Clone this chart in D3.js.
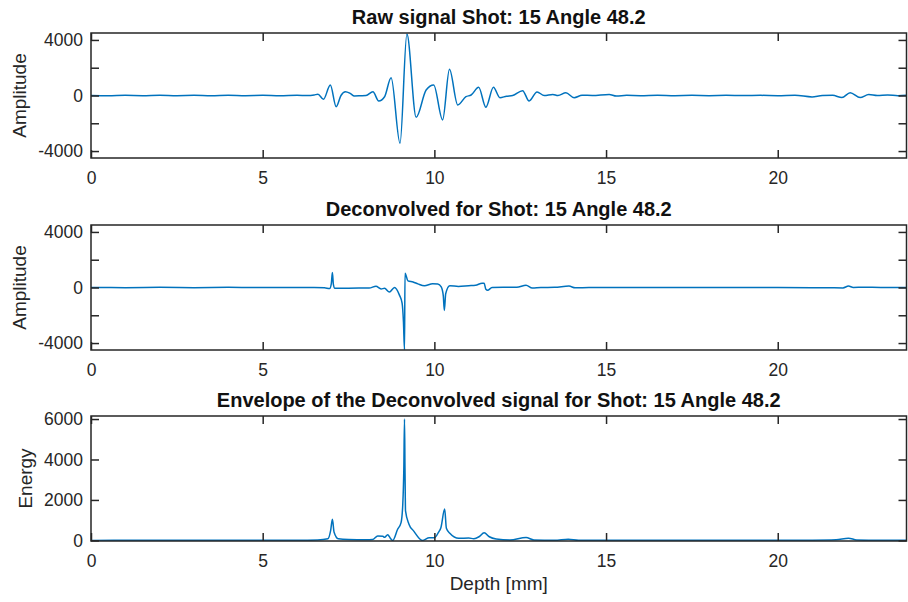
<!DOCTYPE html>
<html>
<head>
<meta charset="utf-8">
<script src="https://cdn.jsdelivr.net/npm/d3@7"></script>
<style>
  body { margin: 0; background: #fff; }
  svg text { font-family: "Liberation Sans", Arial, Helvetica, sans-serif; fill: #262626; }
</style>
</head>
<body>
<div id="wrapper"></div>
<script>
// raw signal (depth mm, amplitude)
const rawDepth = [0, 0.5, 1.0, 1.5, 2.0, 2.5, 3.0, 3.5, 4.0, 4.5, 5.0, 5.5, 6.0, 6.3, 6.5, 6.61, 6.77, 6.97, 7.14, 7.28, 7.41, 7.55, 7.67, 7.85, 8.01, 8.21, 8.38, 8.55, 8.74, 9.0, 9.2, 9.47, 9.76, 9.98, 10.24, 10.44, 10.68, 10.92, 11.07, 11.29, 11.5, 11.72, 11.91, 12.1, 12.28, 12.57, 12.76, 12.99, 13.2, 13.45, 13.6, 13.83, 14.07, 14.3, 14.6, 15.09, 15.3, 15.6, 16.0, 16.5, 17.0, 17.5, 18.0, 18.5, 19.0, 19.5, 20.0, 20.5, 21.0, 21.3, 21.6, 21.87, 22.11, 22.4, 22.65, 22.9, 23.2, 23.5, 23.75]
const rawAmp = [0, -15, 10, -10, 15, -10, 10, -15, 20, -10, 10, -15, 10, 0, 40, 90, -270, 755, -805, 0, 273, 150, -36, -20, 0, 273, -395, -90, 1280, -3437, 4420, -1567, 395, 755, -1760, 1884, -683, -86, 36, 590, -848, 590, -158, -50, 0, 345, -395, 252, 0, 80, 0, 200, -158, 20, 0, 80, -40, 10, -10, 15, -10, 10, -10, 10, -5, 10, -10, 20, -100, 0, 10, -150, 200, -150, 70, 0, 30, -10, 10]

// deconvolved signal
const decDepth = [0, 1, 2, 3, 4, 5, 6, 6.5, 6.8, 6.95, 7.0, 7.03, 7.06, 7.1, 7.4, 7.8, 8.1, 8.3, 8.45, 8.55, 8.69, 8.84, 8.98, 9.06, 9.1, 9.13, 9.145, 9.23, 9.38, 9.52, 9.71, 9.95, 10.1, 10.2, 10.26, 10.29, 10.33, 10.45, 10.7, 11.0, 11.2, 11.39, 11.45, 11.5, 11.55, 11.68, 12.0, 12.4, 12.67, 12.85, 13.1, 13.5, 13.92, 14.1, 14.5, 15, 16, 17, 18, 19, 20, 21, 21.5, 21.9, 22.06, 22.2, 22.5, 23, 23.75]
const decAmp = [0, -10, 10, -10, 10, -5, 5, 0, -20, -80, 300, 1080, 200, -60, -50, -40, -40, 90, -100, -60, -330, 0, -530, -1130, -2500, -4480, 1030, 480, 400, 260, 120, 270, 250, 50, -600, -1650, -450, 120, 80, 130, 160, 310, 300, -130, -200, 0, 20, 10, 170, -30, 0, 10, 100, -20, 0, 5, -5, 0, 5, -5, 0, -10, -20, -30, 100, 0, 20, 0, 0]

// envelope
const envDepth = [0, 1, 2, 3, 4, 5, 6, 6.6, 6.9, 6.98, 7.03, 7.08, 7.2, 7.5, 8.0, 8.2, 8.35, 8.5, 8.55, 8.64, 8.72, 8.79, 8.93, 9.03, 9.08, 9.11, 9.13, 9.145, 9.16, 9.26, 9.4, 9.65, 9.85, 10.0, 10.12, 10.19, 10.3, 10.35, 10.45, 10.71, 11.0, 11.15, 11.3, 11.45, 11.6, 11.8, 12.2, 12.67, 12.9, 13.5, 13.9, 14.2, 15, 16, 17, 18, 19, 20, 21, 21.7, 22.06, 22.3, 23, 23.75]
const envEnergy = [0, 10, 5, 10, 5, 10, 5, 20, 80, 500, 1040, 400, 80, 40, 30, 40, 220, 200, 150, 280, 100, 0, 550, 880, 1790, 3500, 6000, 3500, 1460, 800, 460, 0, 130, 130, 400, 630, 1550, 600, 350, 100, 120, 80, 180, 380, 180, 70, 20, 140, 20, 10, 60, 10, 10, 5, 10, 5, 10, 5, 10, 30, 110, 20, 5, 5]

const xTicks = [0, 5, 10, 15, 20]
const ampTicks = [-4000, -2000, 0, 2000, 4000]
const ampLabels = [-4000, 0, 4000]
const energyTicks = [0, 2000, 4000, 6000]

const panels = [
  { title: "Raw signal Shot: 15 Angle 48.2", ylabel: "Amplitude", xs: rawDepth, ys: rawAmp, yDomain: [-4500, 4500], ticks: ampTicks, labels: ampLabels, top: 33, labelX: 26 },
  { title: "Deconvolved for Shot: 15 Angle 48.2", ylabel: "Amplitude", xs: decDepth, ys: decAmp, yDomain: [-4500, 4500], ticks: ampTicks, labels: ampLabels, top: 225, labelX: 26 },
  { title: "Envelope of the Deconvolved signal for Shot: 15 Angle 48.2", ylabel: "Energy", xs: envDepth, ys: envEnergy, yDomain: [-30, 6150], ticks: energyTicks, labels: energyTicks, top: 416, labelX: 32 },
]

const dimensions = { width: 908, height: 602, left: 91, right: 906.5, panelHeight: 125 }

const svg = d3.select("#wrapper").append("svg")
  .attr("width", dimensions.width)
  .attr("height", dimensions.height)

const x = d3.scaleLinear().domain([0, 23.75]).range([dimensions.left, dimensions.right])
const axisColor = "#262626"
const tickLen = 8

panels.forEach((p, i) => {
  const bottom = p.top + dimensions.panelHeight
  const y = d3.scaleLinear().domain(p.yDomain).range([bottom, p.top])

  svg.append("clipPath").attr("id", "clip" + i)
    .append("rect")
      .attr("x", dimensions.left).attr("y", p.top)
      .attr("width", dimensions.right - dimensions.left).attr("height", dimensions.panelHeight)

  const line = d3.line()
    .x(d => x(d[0]))
    .y(d => y(d[1]))
    .curve(d3.curveMonotoneX)

  svg.append("path")
    .datum(d3.zip(p.xs, p.ys))
    .attr("clip-path", `url(#clip${i})`)
    .attr("fill", "none")
    .attr("stroke", "#0072BD")
    .attr("stroke-width", 1.5)
    .attr("stroke-linejoin", "round")
    .attr("d", line)

  // bottom axis with labels
  const gx = svg.append("g")
    .attr("transform", `translate(0,${bottom})`)
    .call(d3.axisBottom(x).tickValues(xTicks).tickSizeInner(-tickLen).tickSizeOuter(0).tickPadding(14).tickFormat(d3.format("d")))
  // top axis, ticks only
  const gxt = svg.append("g")
    .attr("transform", `translate(0,${p.top})`)
    .call(d3.axisTop(x).tickValues(xTicks).tickSizeInner(-tickLen).tickSizeOuter(0).tickFormat(""))
  // left axis
  const gy = svg.append("g")
    .attr("transform", `translate(${dimensions.left},0)`)
    .call(d3.axisLeft(y).tickValues(p.ticks).tickSizeInner(-tickLen).tickSizeOuter(0).tickPadding(8)
      .tickFormat(d => p.labels.includes(d) ? d : ""))
  // right axis
  const gyr = svg.append("g")
    .attr("transform", `translate(${dimensions.right},0)`)
    .call(d3.axisRight(y).tickValues(p.ticks).tickSizeInner(-tickLen).tickSizeOuter(0).tickFormat(""))

  ;[gx, gxt, gy, gyr].forEach(g => {
    g.select(".domain").remove()
    g.selectAll(".tick line").attr("stroke", axisColor).attr("stroke-width", 1.5)
    g.selectAll(".tick text").style("font-size", "17.5px").attr("fill", axisColor)
  })

  svg.append("rect")
    .attr("x", dimensions.left).attr("y", p.top)
    .attr("width", dimensions.right - dimensions.left).attr("height", dimensions.panelHeight)
    .attr("fill", "none")
    .attr("stroke", axisColor)
    .attr("stroke-width", 1.5)

  svg.append("text")
    .attr("x", (dimensions.left + dimensions.right) / 2)
    .attr("y", p.top - 9)
    .attr("text-anchor", "middle")
    .style("font-size", "20px")
    .style("font-weight", "bold")
    .style("fill", "#111")
    .text(p.title)

  svg.append("text")
    .attr("transform", `translate(${p.labelX},${(p.top + bottom) / 2}) rotate(-90)`)
    .attr("text-anchor", "middle")
    .style("font-size", "19px")
    .text(p.ylabel)
})

svg.append("text")
  .attr("x", (dimensions.left + dimensions.right) / 2)
  .attr("y", 590)
  .attr("text-anchor", "middle")
  .style("font-size", "19px")
  .text("Depth [mm]")
</script>
</body>
</html>
